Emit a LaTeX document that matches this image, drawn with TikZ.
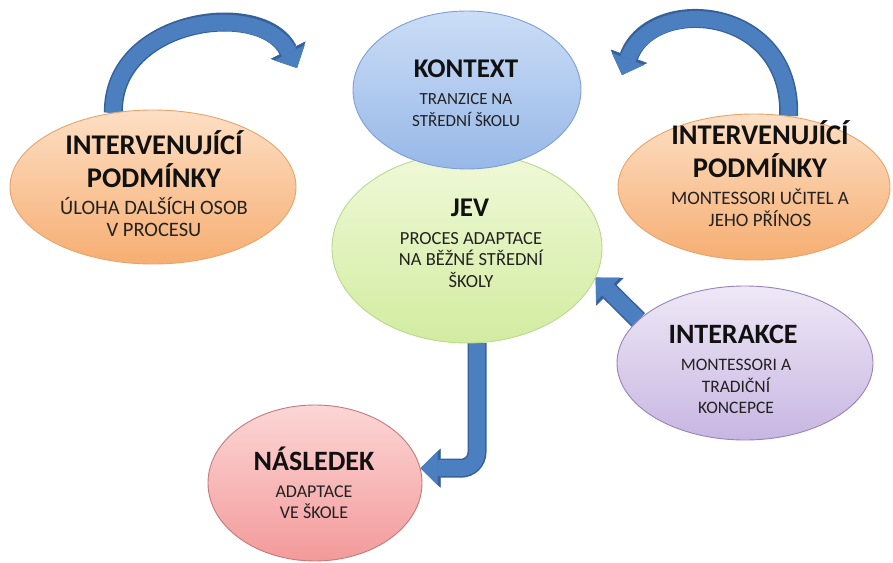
\documentclass[tikz,border=0pt]{standalone}
\usepackage{fontspec}
\setmainfont{Carlito}
\usetikzlibrary{shapes.geometric,arrows.meta}
\pgfdeclarelayer{bg}
\pgfsetlayers{bg,main}
\definecolor{arrfill}{HTML}{4B7FC0}
\definecolor{arrline}{HTML}{36609A}
\definecolor{bltop}{HTML}{CBDDF6}\definecolor{blbot}{HTML}{97B8E8}\definecolor{blline}{HTML}{7E9FD6}
\definecolor{grtop}{HTML}{F0F9D8}\definecolor{grbot}{HTML}{D2ECA0}\definecolor{grline}{HTML}{B9DA8E}
\definecolor{ortop}{HTML}{FDDFC4}\definecolor{orbot}{HTML}{F6AE72}\definecolor{orline}{HTML}{E8A36B}
\definecolor{putop}{HTML}{EEE8F6}\definecolor{pubot}{HTML}{C8B6E2}\definecolor{puline}{HTML}{9983B8}
\definecolor{retop}{HTML}{FCD6D6}\definecolor{rebot}{HTML}{F39A9A}\definecolor{reline}{HTML}{C27A7A}
\definecolor{titlec}{HTML}{111111}
\definecolor{subc}{HTML}{222222}
\tikzset{
  bubble/.style={ellipse, inner sep=0pt, line width=0.9bp},
  ttl/.style={anchor=base, text=titlec, font=\bfseries\fontsize{#1}{#1}\selectfont},
  subtxt/.style={anchor=base, text=subc, font=\fontsize{#1}{#1}\selectfont},
  fatarrow/.style={draw=arrfill, line width=16bp,
    -{Triangle[width=34bp,length=17bp,line width=0.5bp]},
    preaction={draw=arrline, line width=19bp,
      -{Triangle[width=39bp,length=20bp,line width=0.5bp]}}}
}
\begin{document}
\begin{tikzpicture}[x=1bp,y=-1bp]
\useasboundingbox (0,0) rectangle (893,563);

% ellipses
\node[bubble, minimum width=270bp, minimum height=190bp, top color=grtop, bottom color=grbot, draw=grline] (jev) at (467,248) {};
\node[bubble, minimum width=228bp, minimum height=158bp, top color=bltop, bottom color=blbot, draw=blline] (kon) at (467,90) {};
\node[bubble, minimum width=286bp, minimum height=154bp, top color=ortop, bottom color=orbot, draw=orline] (ipl) at (153,187) {};
\node[bubble, minimum width=272bp, minimum height=146bp, top color=ortop, bottom color=orbot, draw=orline] (ipr) at (754,187) {};
\node[bubble, minimum width=256bp, minimum height=154bp, top color=putop, bottom color=pubot, draw=puline] (int) at (745,363) {};
\node[bubble, minimum width=214bp, minimum height=156bp, top color=retop, bottom color=rebot, draw=reline] (nas) at (315,483) {};

% free ends of the curved arrows
\coordinate (lend) at (297,68);
\coordinate (rend) at (622,75);

\begin{pgfonlayer}{bg}
\fill[white] (0,0) rectangle (893,563);
\draw[fatarrow] (ipl.118) .. controls (112,18) and (262,-2) .. (lend);
\draw[fatarrow] (ipr.64) .. controls (792,5) and (652,-6) .. (rend);
\draw[fatarrow, rounded corners=16bp] (jev.-84) |- (nas.8);
\draw[fatarrow] (int.158) -- (jev.-13);
\end{pgfonlayer}

% texts
\node[ttl=27bp] (k1) at (466,78) {KONTEXT};
\node[subtxt=17bp] (k2) at (466,105) {TRANZICE NA};
\node[subtxt=17bp] (k3) at (466,127) {STŘEDNÍ ŠKOLU};

\node[ttl=28.5bp] (l1) at (154,155) {INTERVENUJÍCÍ};
\node[ttl=28.5bp] (l2) at (154,188) {PODMÍNKY};
\node[subtxt=20.5bp] (l3) at (154,215) {ÚLOHA DALŠÍCH OSOB};
\node[subtxt=20.5bp] (l4) at (154,237) {V PROCESU};

\node[ttl=28.5bp] (r1) at (760,145) {INTERVENUJÍCÍ};
\node[ttl=28.5bp] (r2) at (760,178) {PODMÍNKY};
\node[subtxt=19bp] (r3) at (760,205) {MONTESSORI UČITEL A};
\node[subtxt=19bp] (r4) at (760,227) {JEHO PŘÍNOS};

\node[ttl=27bp] (j1) at (470,217) {JEV};
\node[subtxt=18.5bp] (j2) at (471,245) {PROCES ADAPTACE};
\node[subtxt=18.5bp] (j3) at (471,266) {NA BĚŽNÉ STŘEDNÍ};
\node[subtxt=18.5bp] (j4) at (471,287) {ŠKOLY};

\node[ttl=28bp] (i1) at (733,343) {INTERAKCE};
\node[subtxt=17.5bp] (i2) at (736,370) {MONTESSORI A};
\node[subtxt=17.5bp] (i3) at (736,392) {TRADIČNÍ};
\node[subtxt=17.5bp] (i4) at (736,413) {KONCEPCE};

\node[ttl=28bp] (n1) at (314,470) {NÁSLEDEK};
\node[subtxt=18bp] (n2) at (314,497) {ADAPTACE};
\node[subtxt=18bp] (n3) at (314,518) {VE ŠKOLE};
\end{tikzpicture}
\end{document}
